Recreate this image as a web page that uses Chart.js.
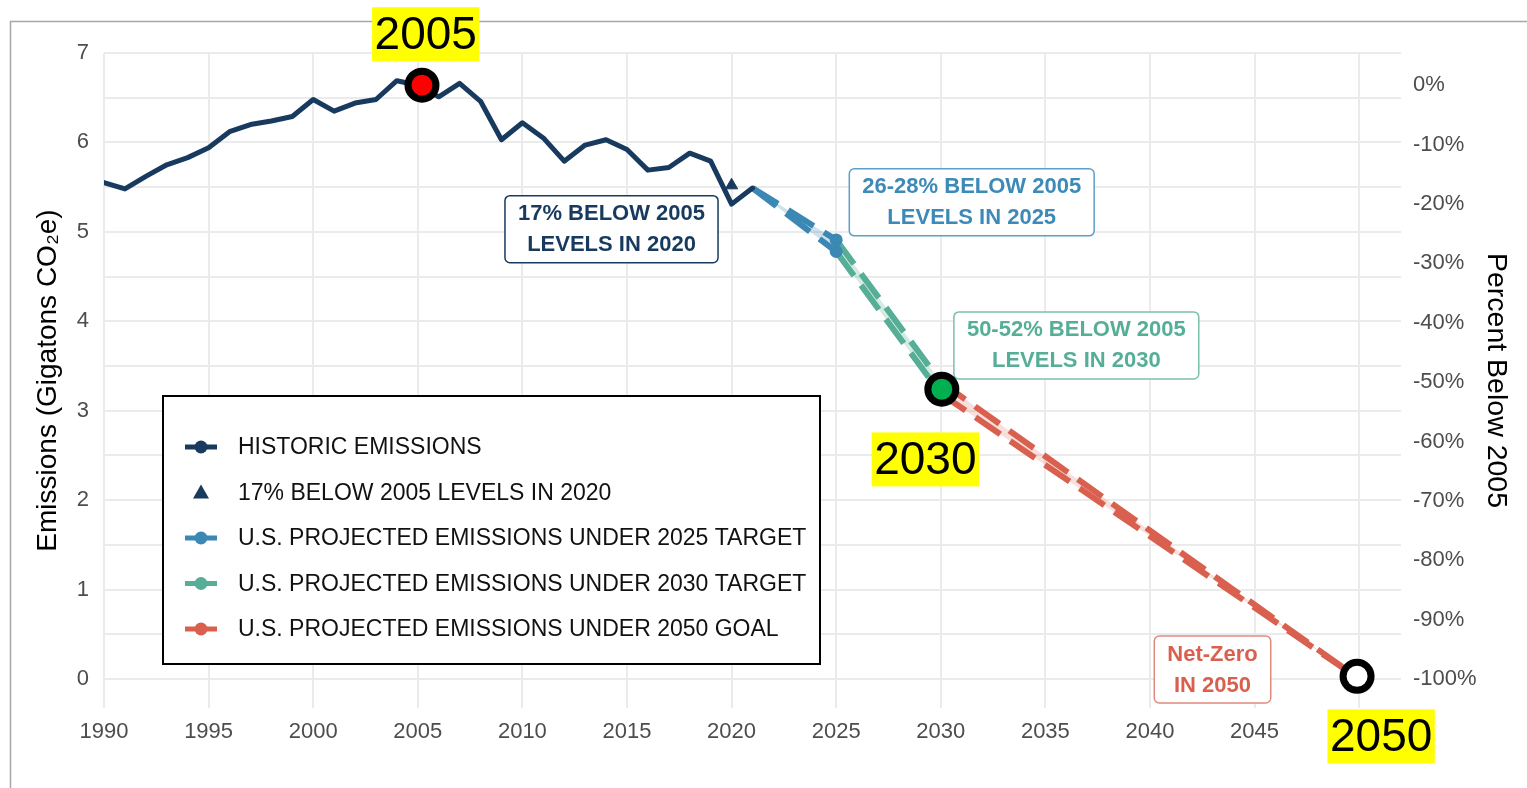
<!DOCTYPE html>
<html>
<head>
<meta charset="utf-8">
<script src="https://cdn.jsdelivr.net/npm/chart.js@4/dist/chart.umd.min.js"></script>
<style>
html,body{margin:0;padding:0;background:#fff;}
#wrap{width:1527px;height:788px;position:relative;}
</style>
</head>
<body>
<div id="wrap"><canvas id="c"></canvas></div>
<script>
// ---------------- DATA ----------------
const historicYears = [1990,1991,1992,1993,1994,1995,1996,1997,1998,1999,2000,2001,2002,2003,2004,2005,2006,2007,2008,2009,2010,2011,2012,2013,2014,2015,2016,2017,2018,2019,2020,2021];
const historicValues = [5.55,5.48,5.62,5.75,5.83,5.94,6.12,6.20,6.24,6.29,6.48,6.35,6.44,6.48,6.69,6.64,6.51,6.66,6.46,6.03,6.22,6.05,5.79,5.97,6.03,5.92,5.69,5.72,5.88,5.79,5.31,5.49];

const target2020Years = [2020];
const target2020Values = [5.52];

const proj2025Years = [2021, 2025];
const proj2025High = [5.49, 4.91];
const proj2025Low = [5.49, 4.78];

const proj2030Years = [2025, 2030];
const proj2030High = [4.91, 3.32];
const proj2030Low = [4.78, 3.19];

const proj2050Years = [2030, 2050];
const proj2050High = [3.32, 0];
const proj2050Low = [3.19, 0];

const highlightYears = [2005.2, 2030.05, 2049.9];
const highlightValues = [6.64, 3.24, 0.03];
const highlightLabels = ['2005', '2030', '2050'];

const xTicks = [1990,1995,2000,2005,2010,2015,2020,2025,2030,2035,2040,2045,2050];
const yGridValues = [0,0.5,1,1.5,2,2.5,3,3.5,4,4.5,5,5.5,6,6.5,7];
const yTickLabels = ['0','1','2','3','4','5','6','7'];
const pctTicks = [0,-10,-20,-30,-40,-50,-60,-70,-80,-90,-100];

const seriesLabels = [
  'HISTORIC EMISSIONS',
  '17% BELOW 2005 LEVELS IN 2020',
  'U.S. PROJECTED EMISSIONS UNDER 2025 TARGET',
  'U.S. PROJECTED EMISSIONS UNDER 2030 TARGET',
  'U.S. PROJECTED EMISSIONS UNDER 2050 GOAL'
];
const noteTexts = [
  ['17% BELOW 2005', 'LEVELS IN 2020'],
  ['26-28% BELOW 2005', 'LEVELS IN 2025'],
  ['50-52% BELOW 2005', 'LEVELS IN 2030'],
  ['Net-Zero', 'IN 2050']
];

// ---------------- STYLE ----------------
const NAVY = '#173a5e';
const BLUE = '#3b88b5';
const GREEN = '#55ae95';
const RED = '#d9604f';
const BLUE_L = 'rgba(59,136,181,0.25)';
const GREEN_L = 'rgba(85,174,149,0.25)';
const RED_L = 'rgba(217,96,79,0.2)';
const FONT = "'Liberation Sans', Arial, Helvetica, sans-serif";
const Y_MIN = -0.325, Y_MAX = 7, X_MIN = 1990, X_MAX = 2052;
const BASE = historicValues[historicYears.indexOf(2005)];

const pts = (xs, ys) => xs.map((x, i) => ({x, y: ys[i]}));
const endPoint = (n, r) => (ctx) => ctx.dataIndex === n - 1 ? r : 0;

function projPair(label, xs, hi, lo, color, light, order) {
  const common = {
    borderColor: color, borderWidth: 6, borderDash: [30, 12], borderCapStyle: 'butt',
    pointRadius: endPoint(xs.length, 6.5), pointBackgroundColor: color, pointBorderWidth: 0,
    pointHoverRadius: 0, order: order, tension: 0
  };
  return [
    Object.assign({label: label, data: pts(xs, hi), fill: false}, common),
    Object.assign({label: '', data: pts(xs, lo), fill: '-1', backgroundColor: light}, common)
  ];
}

const datasets = [
  {label: seriesLabels[0], data: pts(historicYears, historicValues), borderColor: NAVY, borderWidth: 5,
   pointRadius: 0, borderJoinStyle: 'round', borderCapStyle: 'round', fill: false, order: 1, tension: 0},
  {label: seriesLabels[1], data: pts(target2020Years, target2020Values), showLine: false, pointStyle: 'triangle',
   pointRadius: 7, pointBackgroundColor: NAVY, pointBorderColor: NAVY, pointBorderWidth: 1, order: 0},
  ...projPair(seriesLabels[2], proj2025Years, proj2025High, proj2025Low, BLUE, BLUE_L, 2),
  ...projPair(seriesLabels[3], proj2030Years, proj2030High, proj2030Low, GREEN, GREEN_L, 3),
  ...projPair(seriesLabels[4], proj2050Years, proj2050High, proj2050Low, RED, RED_L, 4),
  {label: 'highlights', data: pts(highlightYears, highlightValues), showLine: false, pointRadius: 14,
   pointBorderWidth: 7, pointBorderColor: '#000', pointBackgroundColor: ['#ff0000', '#00b050', '#ffffff'],
   order: -1, clip: false}
];

// legend rows: [dataset index, kind, color]
const legendRows = [[0, 'line', NAVY], [1, 'tri', NAVY], [2, 'line', BLUE], [4, 'line', GREEN], [6, 'line', RED]];
// note boxes: anchored at data coordinates (centres)
const notes = [
  {text: noteTexts[0], color: NAVY, tcolor: NAVY, x: 2014.26, y: 5.03},
  {text: noteTexts[1], color: '#5aa0c8', tcolor: '#3d8ab8', x: 2031.48, y: 5.33},
  {text: noteTexts[2], color: '#7cc0ad', tcolor: GREEN, x: 2036.48, y: 3.73},
  {text: noteTexts[3], color: '#e08a7e', tcolor: RED, x: 2042.99, y: 0.106}
];
const yellowPos = [[2005.38, 7.21], [2029.26, 2.455], [2051.05, -0.643]];

function rr(ctx, x, y, w, h, r) {
  ctx.beginPath();
  ctx.moveTo(x + r, y); ctx.lineTo(x + w - r, y); ctx.arcTo(x + w, y, x + w, y + r, r);
  ctx.lineTo(x + w, y + h - r); ctx.arcTo(x + w, y + h, x + w - r, y + h, r);
  ctx.lineTo(x + r, y + h); ctx.arcTo(x, y + h, x, y + h - r, r);
  ctx.lineTo(x, y + r); ctx.arcTo(x, y, x + r, y, r); ctx.closePath();
}

const decor = {
  id: 'decor',
  beforeDraw(chart) {
    const ctx = chart.ctx;
    ctx.save();
    ctx.strokeStyle = '#a8a8a8'; ctx.lineWidth = 1.5;
    ctx.beginPath(); ctx.moveTo(10.5, 788); ctx.lineTo(10.5, 21.5); ctx.lineTo(1527, 21.5); ctx.stroke();
    ctx.restore();
  },
  beforeDatasetsDraw(chart) {
    const ctx = chart.ctx, xs = chart.scales.x, ys = chart.scales.y, ca = chart.chartArea;
    ctx.save();
    // note boxes
    ctx.font = 'bold 22px ' + FONT;
    ctx.textAlign = 'center'; ctx.textBaseline = 'middle';
    notes.forEach(n => {
      const cx = xs.getPixelForValue(n.x), cy = ys.getPixelForValue(n.y);
      const tw = Math.max(...n.text.map(t => ctx.measureText(t).width));
      const w = tw + 26, h = 67;
      rr(ctx, cx - w / 2, cy - h / 2, w, h, 5);
      ctx.fillStyle = '#fff'; ctx.fill();
      ctx.lineWidth = 1.5; ctx.strokeStyle = n.color; ctx.stroke();
      ctx.fillStyle = n.tcolor;
      ctx.fillText(n.text[0], cx, cy - 15);
      ctx.fillText(n.text[1], cx, cy + 16);
    });
    // legend box
    const L = ca.left + 59, T = ca.top + 343, W = 657, H = 268;
    ctx.fillStyle = '#fff'; ctx.fillRect(L, T, W, H);
    ctx.lineWidth = 2; ctx.strokeStyle = '#000'; ctx.strokeRect(L, T, W, H);
    ctx.font = '23px ' + FONT; ctx.textAlign = 'left'; ctx.textBaseline = 'middle';
    legendRows.forEach((r, i) => {
      const y = T + 51 + i * 45.5, mx = L + 38;
      ctx.fillStyle = r[2]; ctx.strokeStyle = r[2];
      if (r[1] === 'line') {
        ctx.lineWidth = 5; ctx.beginPath(); ctx.moveTo(mx - 16, y); ctx.lineTo(mx + 16, y); ctx.stroke();
        ctx.beginPath(); ctx.arc(mx, y, 6.5, 0, Math.PI * 2); ctx.fill();
      } else {
        ctx.beginPath(); ctx.moveTo(mx, y - 8); ctx.lineTo(mx + 8, y + 6); ctx.lineTo(mx - 8, y + 6); ctx.closePath(); ctx.fill();
      }
      ctx.fillStyle = '#111';
      ctx.fillText(chart.data.datasets[r[0]].label, L + 75, y + 1);
    });
    ctx.restore();
  },
  afterDraw(chart) {
    const ctx = chart.ctx, xs = chart.scales.x, ys = chart.scales.y;
    ctx.save();
    ctx.font = '46px ' + FONT; ctx.textAlign = 'center'; ctx.textBaseline = 'middle';
    highlightLabels.forEach((t, i) => {
      const cx = xs.getPixelForValue(yellowPos[i][0]), cy = ys.getPixelForValue(yellowPos[i][1]);
      const w = ctx.measureText(t).width + 5, h = 54;
      ctx.fillStyle = '#ffff00'; ctx.fillRect(cx - w / 2, cy - h / 2, w, h);
      ctx.fillStyle = '#000'; ctx.fillText(t, cx, cy + 2);
    });
    ctx.restore();
  }
};

Chart.defaults.font.family = FONT;
const GRID = '#ebebeb';

new Chart(document.getElementById('c'), {
  type: 'line',
  data: {datasets},
  options: {
    responsive: true, maintainAspectRatio: false, animation: false, events: [],
    layout: {padding: {top: 53, left: 0, right: 0, bottom: 0}},
    plugins: {legend: {display: false}, tooltip: {enabled: false}},
    scales: {
      x: {
        type: 'linear', min: X_MIN, max: X_MAX,
        grid: {color: GRID, lineWidth: 2, drawTicks: false},
        border: {display: false},
        afterBuildTicks: s => { s.ticks = xTicks.map(v => ({value: v})); },
        afterFit: s => { s.height = 80; },
        ticks: {autoSkip: false, maxRotation: 0, padding: 11, color: '#4d4d4d', font: {size: 22},
                callback: v => String(v)}
      },
      y: {
        type: 'linear', position: 'left', min: Y_MIN, max: Y_MAX,
        grid: {color: GRID, lineWidth: 2, drawTicks: false},
        border: {display: false},
        afterBuildTicks: s => { s.ticks = yGridValues.map(v => ({value: v})); },
        afterFit: s => { s.width = 104; },
        ticks: {padding: 15, color: '#4d4d4d', font: {size: 22},
                callback: v => (Number.isInteger(v) ? yTickLabels[yTickLabels.indexOf(String(v))] : '')},
        title: {display: true, text: 'Emissions (Gigatons CO\u2082e)', color: '#000', font: {size: 28}, padding: {top: 31, bottom: 0}}
      },
      y2: {
        type: 'linear', position: 'right',
        min: (Y_MIN / BASE - 1) * 100, max: (Y_MAX / BASE - 1) * 100,
        grid: {display: false, drawTicks: false},
        border: {display: false},
        afterBuildTicks: s => { s.ticks = pctTicks.map(v => ({value: v})); },
        afterFit: s => { s.width = 126; },
        ticks: {padding: 12, color: '#4d4d4d', font: {size: 22}, callback: v => v + '%'},
        title: {display: true, text: 'Percent Below 2005', color: '#000', font: {size: 28.5}, padding: {top: 14, bottom: 0}}
      }
    }
  },
  plugins: [decor]
});
</script>
</body>
</html>
